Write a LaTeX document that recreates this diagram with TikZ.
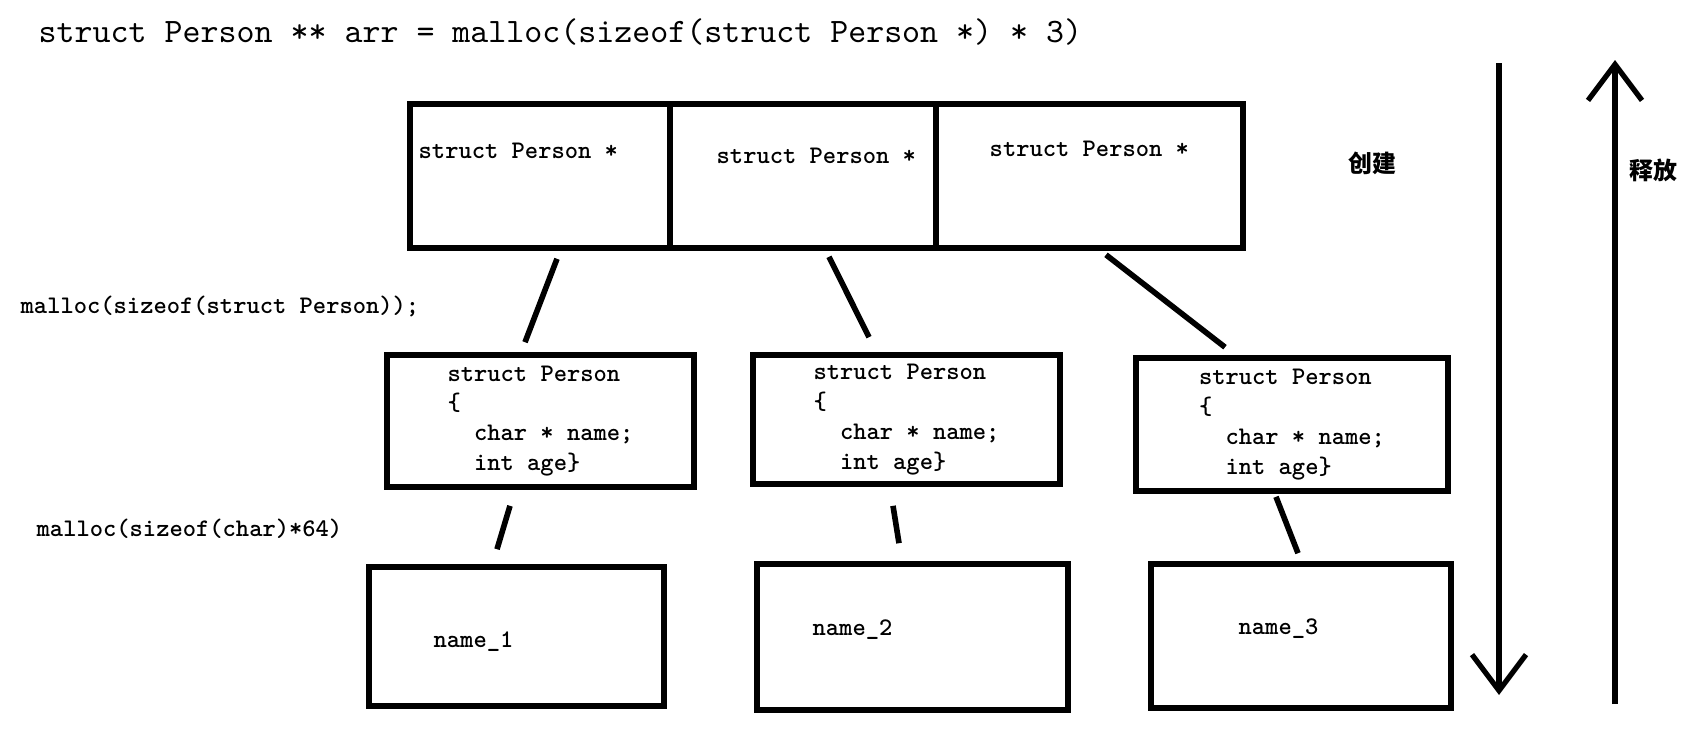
\documentclass[tikz,border=0pt]{standalone}
\usepackage{fontspec}
\newfontfamily\cjk{Noto Sans CJK SC}
\usepackage{tikz}
\usetikzlibrary{arrows.meta, positioning, calc}
\tikzset{
    cell/.style={
        draw=black,
        line width=1.6pt,
        minimum width=#1,
        minimum height=1.44cm,
        inner sep=0pt
    },
    cell/.default=2.6cm,
    structbox/.style={
        draw=black,
        line width=1.6pt,
        minimum width=3.07cm,
        minimum height=1.32cm,
        font=\ttfamily\bfseries\fontsize{7.2}{8.5}\selectfont,
        align=left,
        inner sep=0pt
    },
    namebox/.style={
        draw=black,
        line width=1.6pt,
        minimum width=3cm,
        minimum height=1.42cm,
        inner sep=0pt
    },
    code/.style={
        font=\ttfamily\bfseries\fontsize{7.2}{8.5}\selectfont,
        anchor=west,
        inner sep=0pt
    },
    hanzi/.style={
        font=\cjk\bfseries\fontsize{6.8}{8}\selectfont,
        inner sep=0pt
    },
    link/.style={
        line width=1.6pt,
        black
    },
    arrow/.style={
        -{Straight Barb[length=3.6mm, width=5.4mm]},
        line width=1.5pt,
        black
    }
}
\newcommand{\ind}{\phantom{xx}}

\begin{document}
\begin{tikzpicture}
    \useasboundingbox (0,0) rectangle (17.03,-7.38);

    % Title
    \node[anchor=west, inner sep=0pt, font=\ttfamily\fontsize{9.75}{11}\selectfont] (title) at (0.38,-0.32)
        {struct Person ** arr = malloc(sizeof(struct Person *) * 3)};

    % Pointer array
    \node[cell=2.60cm] (arr1) at (5.40,-1.76) {};
    \node[cell=2.66cm] (arr2) at (8.03,-1.76) {};
    \node[cell=3.07cm] (arr3) at (10.895,-1.76) {};
    \node[code] (t1) at (4.18,-1.51) {struct Person *};
    \node[code] (t2) at (7.16,-1.56) {struct Person *};
    \node[code] (t3) at (9.89,-1.49) {struct Person *};

    \node[code] (mstruct) at (0.20,-3.06) {malloc(sizeof(struct Person));};
    \node[code] (mchar) at (0.36,-5.29) {malloc(sizeof(char)*64)};

    % Structs
    \node[structbox] (p1) at (5.405,-4.21) {struct Person\\\{\\\ind char * name;\\\ind int age\}};
    \node[structbox, minimum height=1.29cm] (p2) at (9.065,-4.195) {struct Person\\\{\\\ind char * name;\\\ind int age\}};
    \node[structbox, minimum width=3.12cm, minimum height=1.33cm] (p3) at (12.92,-4.245) {struct Person\\\{\\\ind char * name;\\\ind int age\}};

    \draw[link] ([xshift=1.7mm,yshift=-0.8mm]arr1.south) -- ([xshift=-1.55mm,yshift=1mm]p1.north);
    \draw[link] ([xshift=2.6mm,yshift=-0.6mm]arr2.south) -- ([xshift=-3.75mm,yshift=1.5mm]p2.north);
    \draw[link] ([xshift=1.65mm,yshift=-0.4mm]arr3.south) -- ([xshift=-6.7mm,yshift=0.8mm]p3.north);

    % Names
    \node[namebox, minimum width=2.95cm, minimum height=1.39cm] (n1) at (5.165,-6.365) {};
    \node[namebox, minimum width=3.11cm, minimum height=1.46cm] (n2) at (9.125,-6.37) {};
    \node[namebox, minimum width=3.00cm, minimum height=1.44cm] (n3) at (13.01,-6.36) {};
    \node[code, anchor=center] (name1) at (4.735,-6.42) {name\_1};
    \node[code, anchor=center] (name2) at (8.525,-6.30) {name\_2};
    \node[code, anchor=center] (name3) at (12.785,-6.29) {name\_3};

    \draw[link] ([xshift=-3.05mm,yshift=-1.6mm]p1.south) -- ([xshift=-1.95mm,yshift=1.5mm]n1.north);
    \draw[link] ([xshift=-1.35mm,yshift=-1.9mm]p2.south) -- ([xshift=-1.35mm,yshift=1.8mm]n2.north);
    \draw[link] ([xshift=-1.6mm,yshift=-0.3mm]p3.south) -- ([xshift=-0.3mm,yshift=0.8mm]n3.north);

    % Create / free
    \coordinate (downtop) at (14.99,-0.63);
    \coordinate (downend) at (14.99,-6.95);
    \coordinate (upstart) at (16.15,-7.04);
    \coordinate (upend) at (16.15,-0.60);
    \draw[arrow] (downtop) -- (downend);
    \draw[arrow] (upstart) -- (upend);
    \node[hanzi] (create) at (13.72,-1.63) {创建};
    \node[hanzi] (free) at (16.53,-1.70) {释放};
\end{tikzpicture}
\end{document}
